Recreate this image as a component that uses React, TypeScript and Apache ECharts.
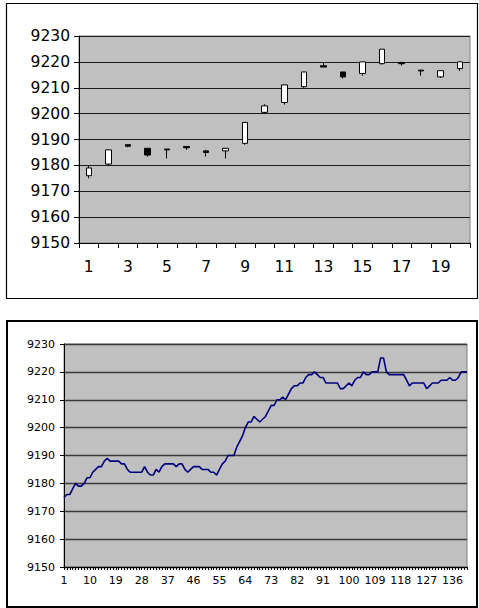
import React, { useEffect, useRef } from "react";
import * as echarts from "echarts";

// ---- Top chart: 20 candles ----
const candleCategories = ["1","2","3","4","5","6","7","8","9","10","11","12","13","14","15","16","17","18","19","20"];
const candleOpen  = [9176, 9180.5, 9188, 9186.6, 9186.3, 9187.3, 9185.6, 9185.6, 9188.5, 9200.5, 9204.3, 9210.4, 9218.5, 9216.1, 9215.5, 9219.3, 9219.8, 9216.8, 9214.2, 9217.4];
const candleClose = [9179, 9186, 9187.4, 9184, 9186, 9186.8, 9185, 9186.6, 9196.6, 9203, 9211.1, 9216.1, 9218, 9214.2, 9220, 9224.9, 9219.3, 9216.5, 9216.6, 9220];
const candleLow   = [9175, 9180, 9187, 9183.4, 9182.7, 9186, 9183.4, 9182.7, 9188, 9200, 9203.5, 9210, 9218, 9213.6, 9214.7, 9219, 9218.6, 9214.7, 9213.8, 9216.5];
const candleHigh  = [9180, 9186, 9188.2, 9186.6, 9186.3, 9187.3, 9186, 9186.6, 9196.6, 9203.6, 9211.1, 9216.1, 9220, 9216.1, 9220, 9224.9, 9219.8, 9216.8, 9216.6, 9220];

// ---- Bottom chart: 141 points ----
const lineValues = [
  9175, 9176, 9176, 9178, 9180, 9179, 9179, 9180, 9182, 9182,
  9184, 9185, 9186, 9186, 9188, 9189, 9188, 9188, 9188, 9188,
  9187, 9187, 9185, 9184, 9184, 9184, 9184, 9184, 9186, 9184,
  9183, 9183, 9185, 9184, 9186, 9187, 9187, 9187, 9187, 9186,
  9187, 9187, 9185, 9184, 9185, 9186, 9186, 9186, 9185, 9185,
  9185, 9184, 9184, 9183, 9185, 9187, 9188, 9190, 9190, 9190,
  9193, 9195, 9197, 9200, 9202, 9202, 9204, 9203, 9202, 9203,
  9204, 9206, 9208, 9208, 9210, 9210, 9211, 9210, 9212, 9214,
  9215, 9215, 9216, 9216, 9218, 9219, 9219, 9220, 9219, 9218,
  9218, 9216, 9216, 9216, 9216, 9216, 9214, 9214, 9215, 9216,
  9215, 9217, 9218, 9218, 9220, 9219, 9219, 9220, 9220, 9220,
  9225, 9225, 9220, 9219, 9219, 9219, 9219, 9219, 9219, 9217,
  9215, 9216, 9216, 9216, 9216, 9216, 9214, 9215, 9216, 9216,
  9216, 9217, 9217, 9217, 9218, 9217, 9217, 9218, 9220, 9220, 9220
];
const lineCategories = lineValues.map((_, i) => String(i + 1));

const yMin = 9150;
const yMax = 9230;
const yStep = 10;

const FONT = "DejaVu Sans, Liberation Sans, Arial, sans-serif";
const plain = (v: number) => String(v);

export default function App() {
  const ref = useRef<HTMLDivElement>(null);

  useEffect(() => {
    if (!ref.current) return;
    const chart = echarts.init(ref.current, null, { renderer: "svg" });
    const candleData = candleOpen.map((o, i) => [o, candleClose[i], candleLow[i], candleHigh[i]]);

    chart.setOption({
      animation: false,
      backgroundColor: "#ffffff",
      graphic: [
        {
          type: "rect",
          shape: { x: 6.5, y: 3.5, width: 471, height: 295 },
          style: { fill: "none", stroke: "#000", lineWidth: 1.2 },
          silent: true,
        },
        {
          type: "rect",
          shape: { x: 7, y: 321, width: 470, height: 286 },
          style: { fill: "none", stroke: "#000", lineWidth: 2 },
          silent: true,
        },
      ],
      grid: [
        {
          left: 79, top: 36, width: 391, height: 207,
          show: true, backgroundColor: "#C0C0C0", borderColor: "#808080", borderWidth: 1,
        },
        {
          left: 64, top: 344, width: 403, height: 223,
          show: true, backgroundColor: "#C0C0C0", borderColor: "#808080", borderWidth: 1,
        },
      ],
      xAxis: [
        {
          type: "category",
          gridIndex: 0,
          data: candleCategories,
          boundaryGap: true,
          axisLine: { lineStyle: { color: "#000", width: 1 } },
          axisTick: { show: true, interval: 0, length: 5, lineStyle: { color: "#000" } },
          axisLabel: { interval: 1, fontSize: 15.5, color: "#000", fontFamily: FONT, margin: 16 },
          splitLine: { show: false },
        },
        {
          type: "category",
          gridIndex: 1,
          data: lineCategories,
          boundaryGap: false,
          axisLine: { lineStyle: { color: "#000", width: 1 } },
          axisTick: { show: true, interval: 0, length: 3, lineStyle: { color: "#000" } },
          axisLabel: { interval: 8, fontSize: 11, color: "#000", fontFamily: FONT, margin: 8 },
          splitLine: { show: false },
        },
      ],
      yAxis: [
        {
          type: "value",
          gridIndex: 0,
          min: yMin, max: yMax, interval: yStep,
          axisLine: { show: true, lineStyle: { color: "#000", width: 1 } },
          axisTick: { show: true, length: 5, lineStyle: { color: "#000" } },
          axisLabel: { fontSize: 15.5, color: "#000", fontFamily: FONT, margin: 9, formatter: plain },
          splitLine: { show: true, lineStyle: { color: "#1a1a1a", width: 1 } },
        },
        {
          type: "value",
          gridIndex: 1,
          min: yMin, max: yMax, interval: yStep,
          axisLine: { show: true, lineStyle: { color: "#000", width: 1 } },
          axisTick: { show: true, length: 4, lineStyle: { color: "#000" } },
          axisLabel: { fontSize: 11, color: "#000", fontFamily: FONT, margin: 9, formatter: plain },
          splitLine: { show: true, lineStyle: { color: "#3a3a3a", width: 1.3 } },
        },
      ],
      series: [
        {
          type: "candlestick",
          xAxisIndex: 0,
          yAxisIndex: 0,
          data: candleData,
          barWidth: 6,
          itemStyle: {
            color: "#ffffff",
            color0: "#000000",
            borderColor: "#000000",
            borderColor0: "#000000",
            borderWidth: 1,
          },
        },
        {
          type: "line",
          xAxisIndex: 1,
          yAxisIndex: 1,
          data: lineValues,
          symbol: "none",
          lineStyle: { color: "#000080", width: 1.6 },
        },
      ],
    });

    return () => chart.dispose();
  }, []);

  return (
    <div
      ref={ref}
      style={{ position: "absolute", left: 0, top: 0, width: 479, height: 608 }}
    />
  );
}
